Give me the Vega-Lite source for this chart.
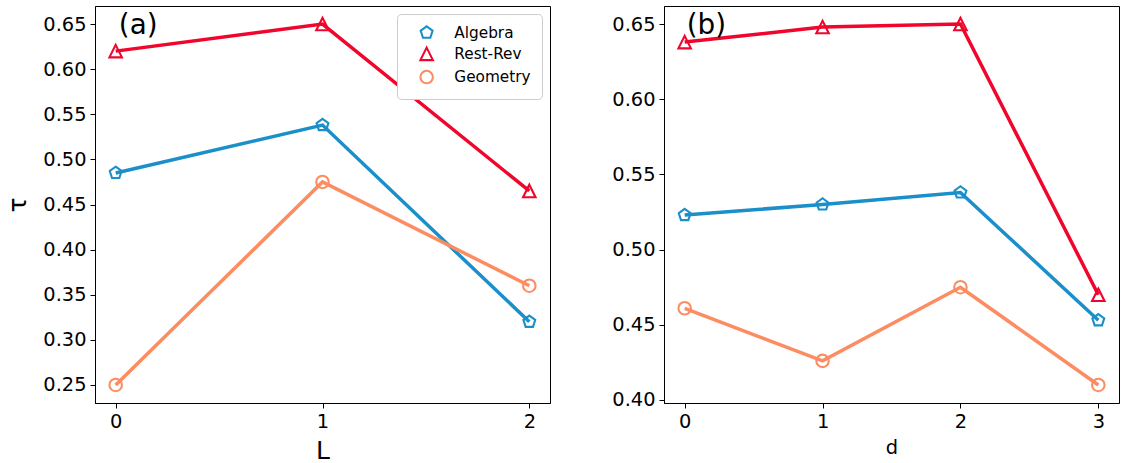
{
  "$schema": "https://vega.github.io/schema/vega-lite/v6.json",
  "autosize": {"type": "pad"},
  "padding": {"left": 5, "top": 5, "right": 0, "bottom": 0},
  "background": "white",
  "spacing": 114,
  "bounds": "flush",
  "config": {
    "view": {"stroke": "black", "strokeWidth": 1},
    "font": "DejaVu Sans",
    "axis": {
      "grid": false,
      "domainColor": "black",
      "tickColor": "black",
      "labelColor": "black",
      "titleColor": "black",
      "labelFont": "DejaVu Sans",
      "titleFont": "DejaVu Sans",
      "labelFontSize": 19.4,
      "titleFontWeight": "normal",
      "tickSize": 5,
      "labelPadding": 4,
      "domainWidth": 1,
      "tickWidth": 1
    },
    "legend": {
      "orient": "top-right",
      "offset": 8,
      "padding": 11,
      "strokeColor": "#cccccc",
      "fillColor": "white",
      "cornerRadius": 4,
      "labelFont": "DejaVu Sans",
      "labelFontSize": 15.3,
      "labelColor": "black",
      "symbolSize": 156,
      "symbolStrokeWidth": 2.1,
      "symbolOffset": 11,
      "labelOffset": 20,
      "rowPadding": 1.2
    }
  },
  "datasets": {
    "a": [
      {"L": 0, "tau": 0.485, "method": "Algebra"},
      {"L": 1, "tau": 0.538, "method": "Algebra"},
      {"L": 2, "tau": 0.320, "method": "Algebra"},
      {"L": 0, "tau": 0.620, "method": "Rest-Rev"},
      {"L": 1, "tau": 0.650, "method": "Rest-Rev"},
      {"L": 2, "tau": 0.465, "method": "Rest-Rev"},
      {"L": 0, "tau": 0.250, "method": "Geometry"},
      {"L": 1, "tau": 0.475, "method": "Geometry"},
      {"L": 2, "tau": 0.360, "method": "Geometry"}
    ],
    "b": [
      {"d": 0, "tau": 0.523, "method": "Algebra"},
      {"d": 1, "tau": 0.530, "method": "Algebra"},
      {"d": 2, "tau": 0.538, "method": "Algebra"},
      {"d": 3, "tau": 0.453, "method": "Algebra"},
      {"d": 0, "tau": 0.638, "method": "Rest-Rev"},
      {"d": 1, "tau": 0.648, "method": "Rest-Rev"},
      {"d": 2, "tau": 0.650, "method": "Rest-Rev"},
      {"d": 3, "tau": 0.470, "method": "Rest-Rev"},
      {"d": 0, "tau": 0.461, "method": "Geometry"},
      {"d": 1, "tau": 0.426, "method": "Geometry"},
      {"d": 2, "tau": 0.475, "method": "Geometry"},
      {"d": 3, "tau": 0.410, "method": "Geometry"}
    ],
    "la": [{"L": 0.015, "tau": 0.639, "label": "(a)"}],
    "lb": [{"d": 0.015, "tau": 0.6434, "label": "(b)"}]
  },
  "resolve": {"scale": {"color": "independent", "stroke": "independent", "shape": "independent", "x": "independent", "y": "independent"}},
  "hconcat": [
    {
      "width": 455,
      "height": 397,
      "layer": [
        {
          "data": {"name": "a"},
          "mark": {"type": "line", "strokeWidth": 3.5},
          "encoding": {
            "x": {"field": "L", "type": "quantitative", "scale": {"domain": [-0.1, 2.1], "nice": false, "zero": false}, "axis": {"values": [0, 1, 2], "format": "d", "title": "L", "titleFontSize": 25, "titlePadding": 8}},
            "y": {"field": "tau", "type": "quantitative", "scale": {"domain": [0.23, 0.67], "nice": false, "zero": false}, "axis": {"values": [0.25, 0.30, 0.35, 0.40, 0.45, 0.50, 0.55, 0.60, 0.65], "format": ".2f", "title": "τ", "titleFontSize": 25, "titlePadding": 12}},
            "stroke": {"field": "method", "type": "nominal", "scale": {"range": ["#1b8fca", "#fc8d62", "#f0062c"]}, "legend": null}
          }
        },
        {
          "data": {"name": "a"},
          "mark": {"type": "point", "filled": false, "size": 156, "strokeWidth": 2.1, "opacity": 1},
          "encoding": {
            "x": {"field": "L", "type": "quantitative"},
            "y": {"field": "tau", "type": "quantitative"},
            "color": {"field": "method", "type": "nominal", "scale": {"domain": ["Algebra", "Rest-Rev", "Geometry"], "range": ["#1b8fca", "#f0062c", "#fc8d62"]}, "legend": {"title": null}},
            "shape": {"field": "method", "type": "nominal", "scale": {"domain": ["Algebra", "Rest-Rev", "Geometry"], "range": ["M0,-1L0.951,-0.309L0.588,0.809L-0.588,0.809L-0.951,-0.309Z", "M0,-1L1,1L-1,1Z", "circle"]}, "legend": {"title": null}}
          }
        },
        {
          "data": {"name": "la"},
          "mark": {"type": "text", "align": "left", "baseline": "alphabetic", "fontSize": 27.8, "font": "DejaVu Sans", "color": "black"},
          "encoding": {
            "x": {"field": "L", "type": "quantitative"},
            "y": {"field": "tau", "type": "quantitative"},
            "text": {"field": "label"}
          }
        }
      ]
    },
    {
      "width": 455,
      "height": 397,
      "layer": [
        {
          "data": {"name": "b"},
          "mark": {"type": "line", "strokeWidth": 3.5},
          "encoding": {
            "x": {"field": "d", "type": "quantitative", "scale": {"domain": [-0.15, 3.15], "nice": false, "zero": false}, "axis": {"values": [0, 1, 2, 3], "format": "d", "title": "d", "titleFontSize": 19.4, "titlePadding": 8}},
            "y": {"field": "tau", "type": "quantitative", "scale": {"domain": [0.398, 0.662], "nice": false, "zero": false}, "axis": {"values": [0.40, 0.45, 0.50, 0.55, 0.60, 0.65], "format": ".2f", "title": null}},
            "stroke": {"field": "method", "type": "nominal", "scale": {"range": ["#1b8fca", "#fc8d62", "#f0062c"]}, "legend": null}
          }
        },
        {
          "data": {"name": "b"},
          "mark": {"type": "point", "filled": false, "size": 156, "strokeWidth": 2.1, "opacity": 1},
          "encoding": {
            "x": {"field": "d", "type": "quantitative"},
            "y": {"field": "tau", "type": "quantitative"},
            "color": {"field": "method", "type": "nominal", "scale": {"domain": ["Algebra", "Rest-Rev", "Geometry"], "range": ["#1b8fca", "#f0062c", "#fc8d62"]}, "legend": null},
            "shape": {"field": "method", "type": "nominal", "scale": {"domain": ["Algebra", "Rest-Rev", "Geometry"], "range": ["M0,-1L0.951,-0.309L0.588,0.809L-0.588,0.809L-0.951,-0.309Z", "M0,-1L1,1L-1,1Z", "circle"]}, "legend": null}
          }
        },
        {
          "data": {"name": "lb"},
          "mark": {"type": "text", "align": "left", "baseline": "alphabetic", "fontSize": 27.8, "font": "DejaVu Sans", "color": "black"},
          "encoding": {
            "x": {"field": "d", "type": "quantitative"},
            "y": {"field": "tau", "type": "quantitative"},
            "text": {"field": "label"}
          }
        }
      ]
    }
  ]
}
